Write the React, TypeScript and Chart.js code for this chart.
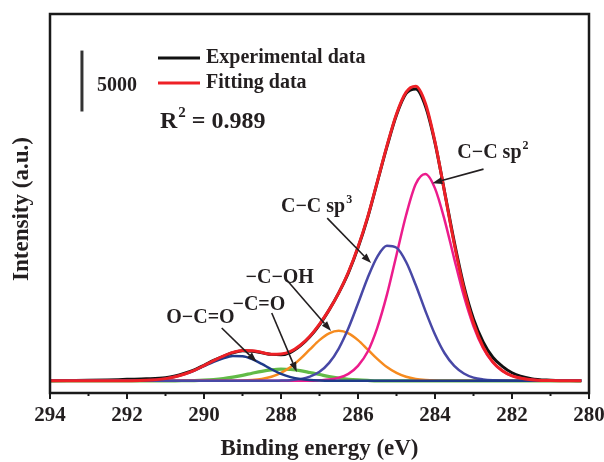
import React, { useEffect, useRef } from 'react';
import { Chart, registerables } from 'chart.js';

Chart.register(...registerables);

// Binding energy grid (eV)
const ENERGY = [
  280.2, 280.5, 281, 281.5, 282, 282.25, 282.5, 282.75, 283, 283.25, 283.5, 283.75,
  284, 284.25, 284.5, 284.75, 285, 285.25, 285.5, 285.75, 286, 286.25, 286.5, 286.75,
  287, 287.25, 287.5, 287.75, 288, 288.25, 288.5, 288.75, 289, 289.25, 289.5, 289.75,
  290, 290.25, 290.5, 290.75, 291, 291.5, 292, 292.5, 293, 293.5, 294,
];

// Intensities (counts above baseline)
const EXPERIMENTAL = [
  0, 20, 50, 180, 660, 1190, 1930, 3200, 5080, 7790, 11400, 15500,
  19520, 22550, 23940, 23580, 21810, 19190, 16280, 13370, 10910, 8860, 7220, 5820,
  4590, 3610, 2870, 2340, 2130, 2170, 2300, 2420, 2460, 2300, 2010, 1680,
  1270, 900, 620, 390, 250, 160, 120, 70, 40, 20, 0,
];
const FITTING = [
  0, 0, 20, 90, 410, 820, 1550, 2790, 4740, 7560, 11230, 15450,
  19610, 22780, 24170, 23690, 21900, 19260, 16320, 13430, 10980, 8910, 7220, 5820,
  4660, 3660, 2920, 2410, 2200, 2180, 2330, 2470, 2490, 2330, 2030, 1660,
  1250, 860, 560, 330, 180, 40, 10, 0, 0, 0, 0,
];
const CC_SP2 = [
  0, 0, 20, 90, 400, 800, 1510, 2680, 4480, 6960, 10010, 13190,
  15790, 16970, 16150, 13610, 10330, 7050, 4350, 2380, 1230, 570, 250, 100,
  40, 0, 0, 0, 0, 0, 0, 0, 0, 0, 0, 0,
  0, 0, 0, 0, 0, 0, 0, 0, 0, 0, 0,
];
const CC_SP3 = [
  0, 0, 0, 0, 10, 20, 40, 110, 260, 600, 1220, 2260,
  3800, 5740, 7860, 9750, 10920, 11080, 10170, 8440, 6340, 4310, 2650, 1470,
  740, 340, 140, 50, 20, 0, 0, 0, 0, 0, 0, 0,
  0, 0, 0, 0, 0, 0, 0, 0, 0, 0, 0,
];
const C_OH = [
  0, 0, 0, 0, 0, 0, 0, 0, 0, 0, 0, 0,
  20, 70, 160, 330, 650, 1130, 1800, 2580, 3340, 3900, 4100, 3900,
  3340, 2580, 1800, 1130, 650, 330, 160, 70, 20, 0, 0, 0,
  0, 0, 0, 0, 0, 0, 0, 0, 0, 0, 0,
];
const C_O = [
  0, 0, 0, 0, 0, 0, 0, 0, 0, 0, 0, 0,
  0, 0, 0, 0, 0, 0, 0, 30, 70, 130, 220, 350,
  520, 680, 840, 930, 960, 900, 780, 620, 450, 300, 180, 100,
  50, 20, 10, 0, 0, 0, 0, 0, 0, 0, 0,
];
const O_C_O = [
  0, 0, 0, 0, 0, 0, 0, 0, 0, 0, 0, 0,
  0, 0, 0, 0, 0, 0, 0, 0, 0, 0, 0, 0,
  20, 60, 140, 300, 570, 950, 1390, 1780, 2020, 2030, 1850, 1560,
  1200, 840, 550, 330, 180, 40, 10, 0, 0, 0, 0,
];

const X_TICKS = [294, 292, 290, 288, 286, 284, 282, 280];
const SCALE_BAR_COUNTS = 5000;
const R_SQUARED = '0.989';

const FONT = "'Liberation Serif', 'Times New Roman', serif";
const TEXT = '#231f20';

type Ann = { label: string; sup?: string; lx: number; ly: number; tx: number; ty: number; hx: number; hy: number };
const ANNOTATIONS: Ann[] = [
  { label: 'C\u2212C sp', sup: '2', lx: 283.42, ly: 18680, tx: 282.74, ty: 17370, hx: 284.07, hy: 16220 },
  { label: 'C\u2212C sp', sup: '3', lx: 288.0, ly: 14250, tx: 286.8, ty: 13350, hx: 285.66, hy: 9660 },
  { label: '\u2212C\u2212OH', lx: 288.92, ly: 8430, tx: 287.85, ty: 8270, hx: 286.7, hy: 4080 },
  { label: '\u2212C=O', lx: 289.26, ly: 6220, tx: 288.24, ty: 5560, hx: 287.59, hy: 720 },
  { label: 'O\u2212C=O', lx: 290.98, ly: 5150, tx: 289.54, ty: 4330, hx: 288.63, hy: 1540 },
];

function drawRich(ctx: CanvasRenderingContext2D, parts: { t: string; sup?: boolean }[], x: number, y: number, size: number) {
  let cx = x;
  ctx.textAlign = 'left';
  ctx.textBaseline = 'middle';
  for (const p of parts) {
    if (p.sup) {
      const s = Math.round(size * 0.62);
      ctx.font = `bold ${s}px ${FONT}`;
      ctx.fillText(p.t, cx + 1, y - size * 0.36);
      cx += ctx.measureText(p.t).width + 1;
    } else {
      ctx.font = `bold ${size}px ${FONT}`;
      ctx.fillText(p.t, cx, y);
      cx += ctx.measureText(p.t).width;
    }
  }
}

function arrow(ctx: CanvasRenderingContext2D, x0: number, y0: number, x1: number, y1: number) {
  const ang = Math.atan2(y1 - y0, x1 - x0);
  const hl = 10, hw = 3.5;
  const bx = x1 - hl * Math.cos(ang), by = y1 - hl * Math.sin(ang);
  ctx.beginPath();
  ctx.moveTo(x0, y0);
  ctx.lineTo(bx, by);
  ctx.lineWidth = 1.6;
  ctx.strokeStyle = TEXT;
  ctx.stroke();
  ctx.beginPath();
  ctx.moveTo(x1, y1);
  ctx.lineTo(bx + hw * Math.sin(ang), by - hw * Math.cos(ang));
  ctx.lineTo(bx - hw * Math.sin(ang), by + hw * Math.cos(ang));
  ctx.closePath();
  ctx.fillStyle = TEXT;
  ctx.fill();
}

const overlay = {
  id: 'overlay',
  afterDatasetsDraw(chart: any) {
    const { ctx, chartArea: a, scales } = chart;
    const xs = scales.x, ys = scales.y;
    ctx.save();
    // frame
    ctx.strokeStyle = '#1a1a1a';
    ctx.lineWidth = 2.5;
    ctx.strokeRect(a.left, a.top, a.right - a.left, a.bottom - a.top);
    // ticks
    for (let v = 280; v <= 294; v++) {
      const px = xs.getPixelForValue(v);
      const len = v % 2 === 0 ? 6 : 3;
      ctx.beginPath();
      ctx.moveTo(px, a.bottom);
      ctx.lineTo(px, a.bottom + len);
      ctx.lineWidth = 2;
      ctx.stroke();
    }
    // y axis title
    ctx.save();
    ctx.translate(22, 209);
    ctx.rotate(-Math.PI / 2);
    ctx.fillStyle = TEXT;
    ctx.font = `bold 23px ${FONT}`;
    ctx.textAlign = 'center';
    ctx.textBaseline = 'middle';
    ctx.fillText('Intensity (a.u.)', 0, 0);
    ctx.restore();
    // scale bar
    const sbx = xs.getPixelForValue(293.17);
    ctx.beginPath();
    ctx.moveTo(sbx, ys.getPixelForValue(22100));
    ctx.lineTo(sbx, ys.getPixelForValue(22100 + SCALE_BAR_COUNTS));
    ctx.lineWidth = 3;
    ctx.strokeStyle = '#333';
    ctx.stroke();
    ctx.fillStyle = TEXT;
    drawRich(ctx, [{ t: String(SCALE_BAR_COUNTS) }], 97, 86, 20);
    // legend
    const leg = [
      { c: '#111111', t: 'Experimental data', y: 58 },
      { c: '#ee2026', t: 'Fitting data', y: 83 },
    ];
    for (const l of leg) {
      ctx.beginPath();
      ctx.moveTo(158, l.y);
      ctx.lineTo(200, l.y);
      ctx.lineWidth = 3;
      ctx.strokeStyle = l.c;
      ctx.stroke();
      ctx.fillStyle = TEXT;
      drawRich(ctx, [{ t: l.t }], 206, l.y, 20);
    }
    // R^2
    drawRich(ctx, [{ t: 'R' }, { t: '2', sup: true }, { t: ' = ' + R_SQUARED }], 160, 122, 24);
    // annotations
    for (const an of ANNOTATIONS) {
      ctx.fillStyle = TEXT;
      const parts: { t: string; sup?: boolean }[] = [{ t: an.label }];
      if (an.sup) parts.push({ t: an.sup, sup: true });
      drawRich(ctx, parts, xs.getPixelForValue(an.lx), ys.getPixelForValue(an.ly), 20);
      arrow(ctx, xs.getPixelForValue(an.tx), ys.getPixelForValue(an.ty), xs.getPixelForValue(an.hx), ys.getPixelForValue(an.hy));
    }
    ctx.restore();
  },
};

function series(vals: number[]) {
  return ENERGY.map((e, i) => ({ x: e, y: vals[i] }));
}

export default function App() {
  const ref = useRef<HTMLCanvasElement | null>(null);
  useEffect(() => {
    if (!ref.current) return;
    const mk = (label: string, vals: number[], color: string, w: number) => ({
      label,
      data: series(vals),
      borderColor: color,
      backgroundColor: color,
      borderWidth: w,
      pointRadius: 0,
      cubicInterpolationMode: 'monotone' as const,
      fill: false,
    });
    // first dataset is drawn on top
    const chart = new Chart(ref.current, {
      type: 'line',
      data: {
        datasets: [
          mk('Fitting data', FITTING, '#ee2026', 3),
          mk('O-C=O', O_C_O, '#1e3a8a', 2.5),
          mk('C-C sp3', CC_SP3, '#4848a6', 2.5),
          mk('C-C sp2', CC_SP2, '#ec1c8c', 2.5),
          mk('-C-OH', C_OH, '#f68b1f', 2.5),
          mk('-C=O', C_O, '#62bb47', 3.2),
          mk('Experimental data', EXPERIMENTAL, '#111111', 3),
        ],
      },
      options: {
        animation: false,
        responsive: true,
        maintainAspectRatio: false,
        layout: { padding: { top: 14, right: 15, left: 0, bottom: 0 } },
        plugins: { legend: { display: false }, tooltip: { enabled: false } },
        scales: {
          x: {
            type: 'linear',
            reverse: true,
            min: 280,
            max: 294,
            afterFit: (s: any) => { s.height = 69; s.paddingLeft = 0; s.paddingRight = 0; },
            afterBuildTicks: (s: any) => { s.ticks = X_TICKS.map((v) => ({ value: v })); },
            grid: { display: false, drawTicks: false },
            border: { display: false },
            ticks: {
              color: TEXT,
              padding: 10,
              maxRotation: 0,
              autoSkip: false,
              font: { family: FONT, size: 21, weight: 'bold' },
            },
            title: {
              display: true,
              text: 'Binding energy (eV)',
              color: TEXT,
              font: { family: FONT, size: 23, weight: 'bold', lineHeight: 1.1 },
              padding: { top: 0, bottom: 0 },
            },
          },
          y: {
            min: -1000,
            max: 30100,
            afterFit: (s: any) => { s.width = 50; },
            grid: { display: false, drawTicks: false },
            border: { display: false },
            ticks: { display: false },
            title: { display: false },
          },
        },
      },
      plugins: [overlay],
    });
    return () => chart.destroy();
  }, []);
  return (
    <div style={{ position: 'fixed', left: 0, top: 0, width: 604, height: 462, background: '#fff' }}>
      <canvas ref={ref} />
    </div>
  );
}
